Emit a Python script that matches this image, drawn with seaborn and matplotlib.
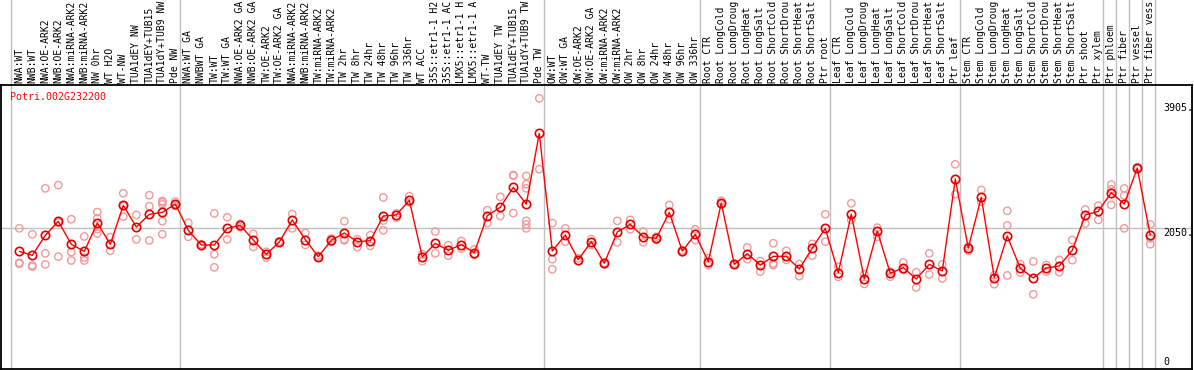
import matplotlib
matplotlib.use("Agg")
import matplotlib.pyplot as plt
import matplotlib.transforms as mtransforms
import numpy as np
import pandas as pd
import seaborn as sns

gene = "Potri.002G232200"

# condition labels as they appear (long names are cut off in the chart header)
labels = [
    "NWA:WT", "NWB:WT", "NWA:OE-ARK2", "NWB:OE-ARK2", "NWA:miRNA-ARK2", "NWB:miRNA-ARK2",
    "NW 0hr", "WT H2O", "WT-NW", "TUA1dEY NW", "TUA1dEY+TUB15", "TUA1dY+TUB9 NW", "Pde NW",
    "NWA:WT GA", "NWBWT GA", "TW:WT", "TW:WT GA", "NWA:OE-ARK2 GA", "NWB:OE-ARK2 GA",
    "TW:OE-ARK2", "TW:OE-ARK2 GA", "NWA:miRNA-ARK2", "NWB:miRNA-ARK2", "TW:miRNA-ARK2",
    "TW:miRNA-ARK2", "TW 2hr", "TW 8hr", "TW 24hr", "TW 48hr", "TW 96hr", "TW 336hr",
    "WT ACC", "35S::etr1-1 H2", "35S::etr1-1 AC", "LMX5::etr1-1 H", "LMX5::etr1-1 A",
    "WT-TW", "TUA1dEY TW", "TUA1dEY+TUB15", "TUA1dY+TUB9 TW", "Pde TW",
    "OW:WT", "OW:WT GA", "OW:OE-ARK2", "OW:OE-ARK2 GA", "OW:miRNA-ARK2", "OW:miRNA-ARK2",
    "OW 2hr", "OW 8hr", "OW 24hr", "OW 48hr", "OW 96hr", "OW 336hr",
    "Root CTR", "Root LongCold", "Root LongDroug", "Root LongHeat", "Root LongSalt",
    "Root ShortCold", "Root ShortDrou", "Root ShortHeat", "Root ShortSalt", "Ptr root",
    "Leaf CTR", "Leaf LongCold", "Leaf LongDroug", "Leaf LongHeat", "Leaf LongSalt",
    "Leaf ShortCold", "Leaf ShortDrou", "Leaf ShortHeat", "Leaf ShortSalt", "Ptr leaf",
    "Stem CTR", "Stem LongCold", "Stem LongDroug", "Stem LongHeat", "Stem LongSalt",
    "Stem ShortCold", "Stem ShortDrou", "Stem ShortHeat", "Stem ShortSalt", "Ptr shoot",
    "Ptr xylem", "Ptr phloem", "Ptr fiber", "Ptr vessel", "Ptr fiber vess",
]

group_sizes = [13, 28, 12, 10, 10, 11, 1, 1, 1, 1]

means = [
    1696, 1635, 1942, 2158, 1804, 1696, 2132, 1804, 2404, 2070, 2265, 2296, 2424,
    2019, 1794, 1794, 2050, 2096, 1870, 1650, 1840, 2178, 1876, 1614, 1865, 1978, 1845,
    1860, 2240, 2255, 2481, 1609, 1819, 1712, 1799, 1676, 2245, 2373, 2681, 2424, 3511,
    1701, 1947, 1568, 1845, 1512, 1994, 2111, 1917, 1896, 2296, 1701, 1958,
    1537, 2440, 1496, 1660, 1486, 1619, 1619, 1424, 1747, 2050,
    1368, 2265, 1271, 2009, 1358, 1445, 1271, 1496, 1394, 2809,
    1747, 2527, 1291, 1932, 1435, 1286, 1440, 1470, 1712, 2255, 2311,
    2599, 2424, 2978, 1942,
]

replicates = [
    [2050, 1520, 1505], [1958, 1480, 1460], [2665, 1665, 1495], [2715, 2140, 1615],
    [2190, 1685, 1555], [1925, 1600, 1555], [2300, 2205, 2040, 1970], [1915, 1705],
    [2590, 2395, 2230], [2255, 1880], [2560, 2390, 1865], [2470, 2450, 2420, 2160, 1960],
    [2460, 2420, 2395],
    [2135, 1920], [1805, 1785], [2280, 1650, 1450], [2220, 1880], [2120, 2065],
    [1965, 1765], [1690, 1600], [1850, 1830], [2270, 2050], [1980, 1795], [1630, 1600],
    [1895, 1835], [2160, 1880, 1865], [1880, 1760], [1945, 1780], [2525, 2170, 2020],
    [2280, 2215], [2545, 2450], [1650, 1545], [2000, 1665], [1790, 1630], [1855, 1740],
    [1725, 1640], [2330, 2130], [2535, 2240], [2870, 2860, 2285],
    [2855, 2730, 2665, 2165, 2110, 2050], [4050, 2960],
    [2130, 1575, 1420], [2050, 1845], [1590, 1545], [1885, 1795], [1520, 1495],
    [2165, 1835], [2180, 2035], [2000, 1835], [1920, 1870], [2410, 2190], [1715, 1680],
    [2035, 1870],
    [1590, 1485], [2475, 2420], [1505, 1485], [1755, 1575], [1545, 1385],
    [1820, 1510, 1485], [1705, 1565], [1500, 1315], [1810, 1630], [2265, 1845],
    [1460, 1305], [2435, 2180], [1345, 1195], [2060, 1920], [1385, 1305], [1525, 1410],
    [1375, 1140], [1665, 1340], [1495, 1280], [3035, 2575],
    [1770, 1705], [2640, 2460], [1330, 1190], [2320, 2095, 1325], [1500, 1370],
    [1540, 1035], [1485, 1385], [1565, 1375], [1870, 1560], [2340, 2125], [2400, 2180],
    [2725, 2650, 2410], [2665, 2555, 2050], [2990, 2965], [2110, 1895, 1805],
]

y_ticks = [0, 2050, 3905]
y_tick_labels = ["0", "2050.", "3905."]

# ---- data frames ----
pos = np.arange(len(labels))
df_mean = pd.DataFrame({"pos": pos, "value": means})
rep_rows = [(i, v) for i, vals in enumerate(replicates) for v in vals]
df_rep = pd.DataFrame(rep_rows, columns=["pos", "value"])

sns.set_style("white")
plt.rcParams["font.family"] = ["DejaVu Sans Mono", "DejaVu Sans"]

W, H = 1194, 370
fig = plt.figure(figsize=(W / 100, H / 100), dpi=100)
ax = fig.add_axes([1 / W, 1 / H, 1191 / W, 284 / H])

ax.set_xlim(-1.408, 90.21)
ax.set_ylim(-114, 4255)

# horizontal reference line
ax.axhline(2050, color="#c0c0c0", lw=1, zorder=0)

# group separators (extend into the label area)
trans_xa = mtransforms.blended_transform_factory(ax.transData, ax.transAxes)
sep_positions = [-0.66] + [c - 1 + 0.385 for c in np.cumsum(group_sizes)]
for xs in sep_positions:
    ax.plot([xs, xs], [0, 1.31], transform=trans_xa, color="#c0c0c0", lw=1,
            clip_on=False, zorder=0)

sns.scatterplot(data=df_rep, x="pos", y="value", ax=ax, marker="o",
                facecolors="none", edgecolor="#f09a9a", linewidth=1.0, s=28,
                zorder=2, legend=False)
sns.lineplot(data=df_mean, x="pos", y="value", ax=ax, color="#ff0000", lw=1,
             marker="o", markersize=6, markerfacecolor="none",
             markeredgecolor="#e00000", markeredgewidth=1.2, zorder=3,
             legend=False)

ax.set_xticks([])
ax.set_yticks([])
ax.set_xlabel("")
ax.set_ylabel("")
for sp in ax.spines.values():
    sp.set_color("black")
    sp.set_linewidth(1.3)
    sp.set_visible(True)

# condition labels above the plot
trans_xf = mtransforms.blended_transform_factory(ax.transData, fig.transFigure)
for i, lab in enumerate(labels):
    fig.text(i, (H - 83) / H, lab, transform=trans_xf, rotation=90,
             ha="center", va="bottom", fontsize=7.0, color="black")

# gene title
ax.text(9 / 1191, 1 - 12 / 284, gene, transform=ax.transAxes, color="#ff0000",
        fontsize=7.2, ha="left", va="center")

# right-side value labels
trans_ay = mtransforms.blended_transform_factory(ax.transAxes, ax.transData)
for v, t in zip(y_ticks, y_tick_labels):
    ax.text((1163 - 1) / 1191, v, t, transform=trans_ay, fontsize=7.2,
            ha="left", va="top" if v == 2050 else "center", color="black")

fig.savefig("out.png", dpi=100)
